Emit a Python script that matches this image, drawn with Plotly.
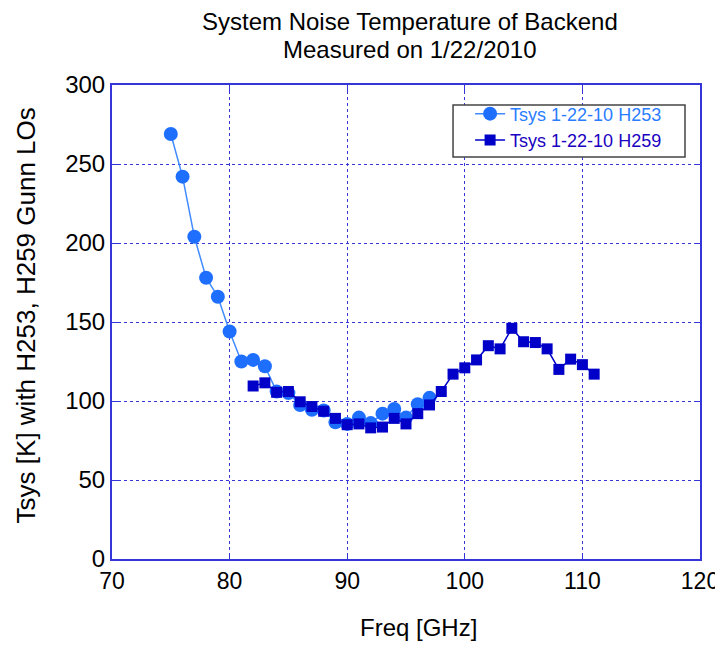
import plotly.graph_objects as go

freq_h253 = [75, 76, 77, 78, 79, 80, 81, 82, 83, 84, 85, 86, 87, 88, 89, 90, 91, 92, 93, 94, 95, 96, 97]
tsys_h253 = [269, 242, 204, 178, 166, 144, 125, 126, 122, 106, 105, 97.5, 94.5, 94, 86.5, 85.5, 89.5, 86, 92, 95, 89.5, 98, 102]

freq_h259 = [82, 83, 84, 85, 86, 87, 88, 89, 90, 91, 92, 93, 94, 95, 96, 97, 98, 99, 100, 101, 102, 103, 104, 105, 106, 107, 108, 109, 110, 111]
tsys_h259 = [109.5, 111.5, 105.5, 106, 99.5, 96.5, 93.5, 89, 85, 85.5, 83, 83.5, 89, 85.5, 92, 97.5, 106, 117, 121, 126, 135, 133, 146, 137.5, 137, 133, 120, 126.5, 123, 117]

x_ticks = [70, 80, 90, 100, 110, 120]
y_ticks = [0, 50, 100, 150, 200, 250, 300]

title_lines = ["System Noise Temperature of Backend", "Measured on 1/22/2010"]
x_title = "Freq [GHz]"
y_title = "Tsys [K] with H253, H259 Gunn LOs"

c253 = "#1f6fff"
c259 = "#0000c8"
axis_c = "#3535d8"
font_fam = "Liberation Sans, Arial, sans-serif"

fig = go.Figure()
fig.add_trace(go.Scatter(
    x=freq_h253, y=tsys_h253, mode="lines+markers",
    name="<span style='color:#2a7dff'>Tsys 1-22-10 H253</span>",
    line=dict(color="#3f8bff", width=1.5),
    marker=dict(symbol="circle", size=14, color=c253),
))
fig.add_trace(go.Scatter(
    x=freq_h259, y=tsys_h259, mode="lines+markers",
    name="<span style='color:#1a00c0'>Tsys 1-22-10 H259</span>",
    line=dict(color=c259, width=1.5),
    marker=dict(symbol="square", size=11, color=c259),
))

fig.update_layout(
    width=715, height=634,
    margin=dict(l=104, r=23, t=77, b=83),
    paper_bgcolor="white", plot_bgcolor="white",
    font=dict(family=font_fam, size=24, color="black"),
    showlegend=True,
    legend=dict(
        x=0.609, xanchor="left", y=0.978, yanchor="top",
        borderwidth=0, bgcolor="rgba(0,0,0,0)",
        font=dict(size=18, family=font_fam),
        tracegroupgap=0,
    ),
    shapes=[
        dict(type="rect", xref="paper", yref="paper", x0=0.580, x1=0.9745, y0=0.848, y1=0.958,
             line=dict(color="#444444", width=1.5), fillcolor="white", layer="above"),
    ],
    annotations=[
        dict(text=title_lines[0], xref="paper", yref="paper", x=0.507, y=1.135,
             xanchor="center", yanchor="middle", showarrow=False, font=dict(size=24)),
        dict(text=title_lines[1], xref="paper", yref="paper", x=0.507, y=1.075,
             xanchor="center", yanchor="middle", showarrow=False, font=dict(size=24)),
        dict(text=x_title, xref="paper", yref="paper", x=0.521, y=-0.1755,
             xanchor="center", yanchor="bottom", showarrow=False, borderpad=0,
             font=dict(size=24)),
        dict(text=y_title, xref="paper", yref="paper", x=-0.147, y=0.513,
             xanchor="center", yanchor="middle", showarrow=False, textangle=-90,
             font=dict(size=26)),
    ],
)
fig.update_xaxes(
    range=[70, 120], tickvals=x_ticks, ticktext=[str(v) for v in x_ticks],
    showline=True, mirror="ticks", linecolor=axis_c, linewidth=2,
    ticks="inside", ticklen=6, tickcolor=axis_c,
    showgrid=True, gridcolor=axis_c, griddash="dot", gridwidth=1,
    zeroline=False, ticklabeloverflow="allow", automargin=False,
    tickfont=dict(size=23),
)
fig.update_yaxes(
    range=[0, 300], tickvals=y_ticks, ticktext=[str(v) for v in y_ticks],
    showline=True, mirror="ticks", linecolor=axis_c, linewidth=2,
    ticks="inside", ticklen=6, tickcolor=axis_c,
    showgrid=True, gridcolor=axis_c, griddash="dot", gridwidth=1,
    zeroline=False, ticklabeloverflow="allow", automargin=False,
    tickfont=dict(size=24),
)

fig.write_html("out.html")
